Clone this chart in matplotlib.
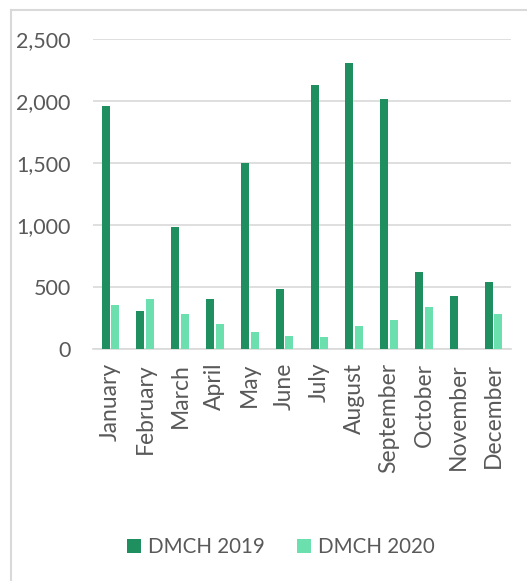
import matplotlib
matplotlib.use("Agg")
import matplotlib.pyplot as plt
from matplotlib.lines import Line2D
import numpy as np

months = ["January", "February", "March", "April", "May", "June", "July",
          "August", "September", "October", "November", "December"]
dmch_2019 = [1960, 310, 985, 403, 1502, 484, 2130, 2310, 2017, 623, 430, 540]
dmch_2020 = [355, 400, 285, 201, 137, 102, 94, 182, 231, 335, 0, 282]

dark = "#1F8F5F"
light = "#6BE0AE"
text_color = "#595959"

plt.rcParams["font.family"] = ["Lato", "DejaVu Sans"]

fig = plt.figure(figsize=(5.27, 5.81), dpi=100)
ax = fig.add_axes([93 / 527, 1 - 349 / 581, 418 / 527, 310 / 581])

x = np.arange(len(months))
w = 0.23
ax.bar(x - 0.14, dmch_2019, w, color=dark, label="DMCH 2019", zorder=3)
ax.bar(x + 0.14, dmch_2020, w, color=light, label="DMCH 2020", zorder=3)

ax.set_xlim(-0.5, len(months) - 0.5)
ax.set_ylim(0, 2500)
ax.set_yticks(range(0, 2501, 500))
ax.set_yticklabels([f"{v:,}" for v in range(0, 2501, 500)])
ax.set_xticks(x)
ax.set_xticklabels(months, rotation=90)
ax.tick_params(length=0, colors=text_color)
ax.tick_params(axis="y", pad=16, labelsize=15.5)
ax.tick_params(axis="x", pad=10, labelsize=16.5)
ax.grid(axis="y", color="#D9D9D9", linewidth=1.2, zorder=0)
for s in ["top", "right", "left"]:
    ax.spines[s].set_visible(False)
ax.spines["bottom"].set_color("#D9D9D9")
ax.spines["bottom"].set_linewidth(1.2)

fig.legend(loc="center", bbox_to_anchor=(281 / 527, 1 - 547 / 581), ncol=2,
           frameon=False, fontsize=14.8, handlelength=0.65, handleheight=0.65,
           columnspacing=1.6, handletextpad=0.35, labelcolor=text_color)

# chart border (only the left and top edges are visible)
fig.add_artist(Line2D([11 / 527, 11 / 527], [0, 1 - 10 / 581], color="#D9D9D9", lw=1.5))
fig.add_artist(Line2D([11 / 527, 1], [1 - 10 / 581, 1 - 10 / 581], color="#D9D9D9", lw=1.5))

fig.savefig("out.png", dpi=100)
